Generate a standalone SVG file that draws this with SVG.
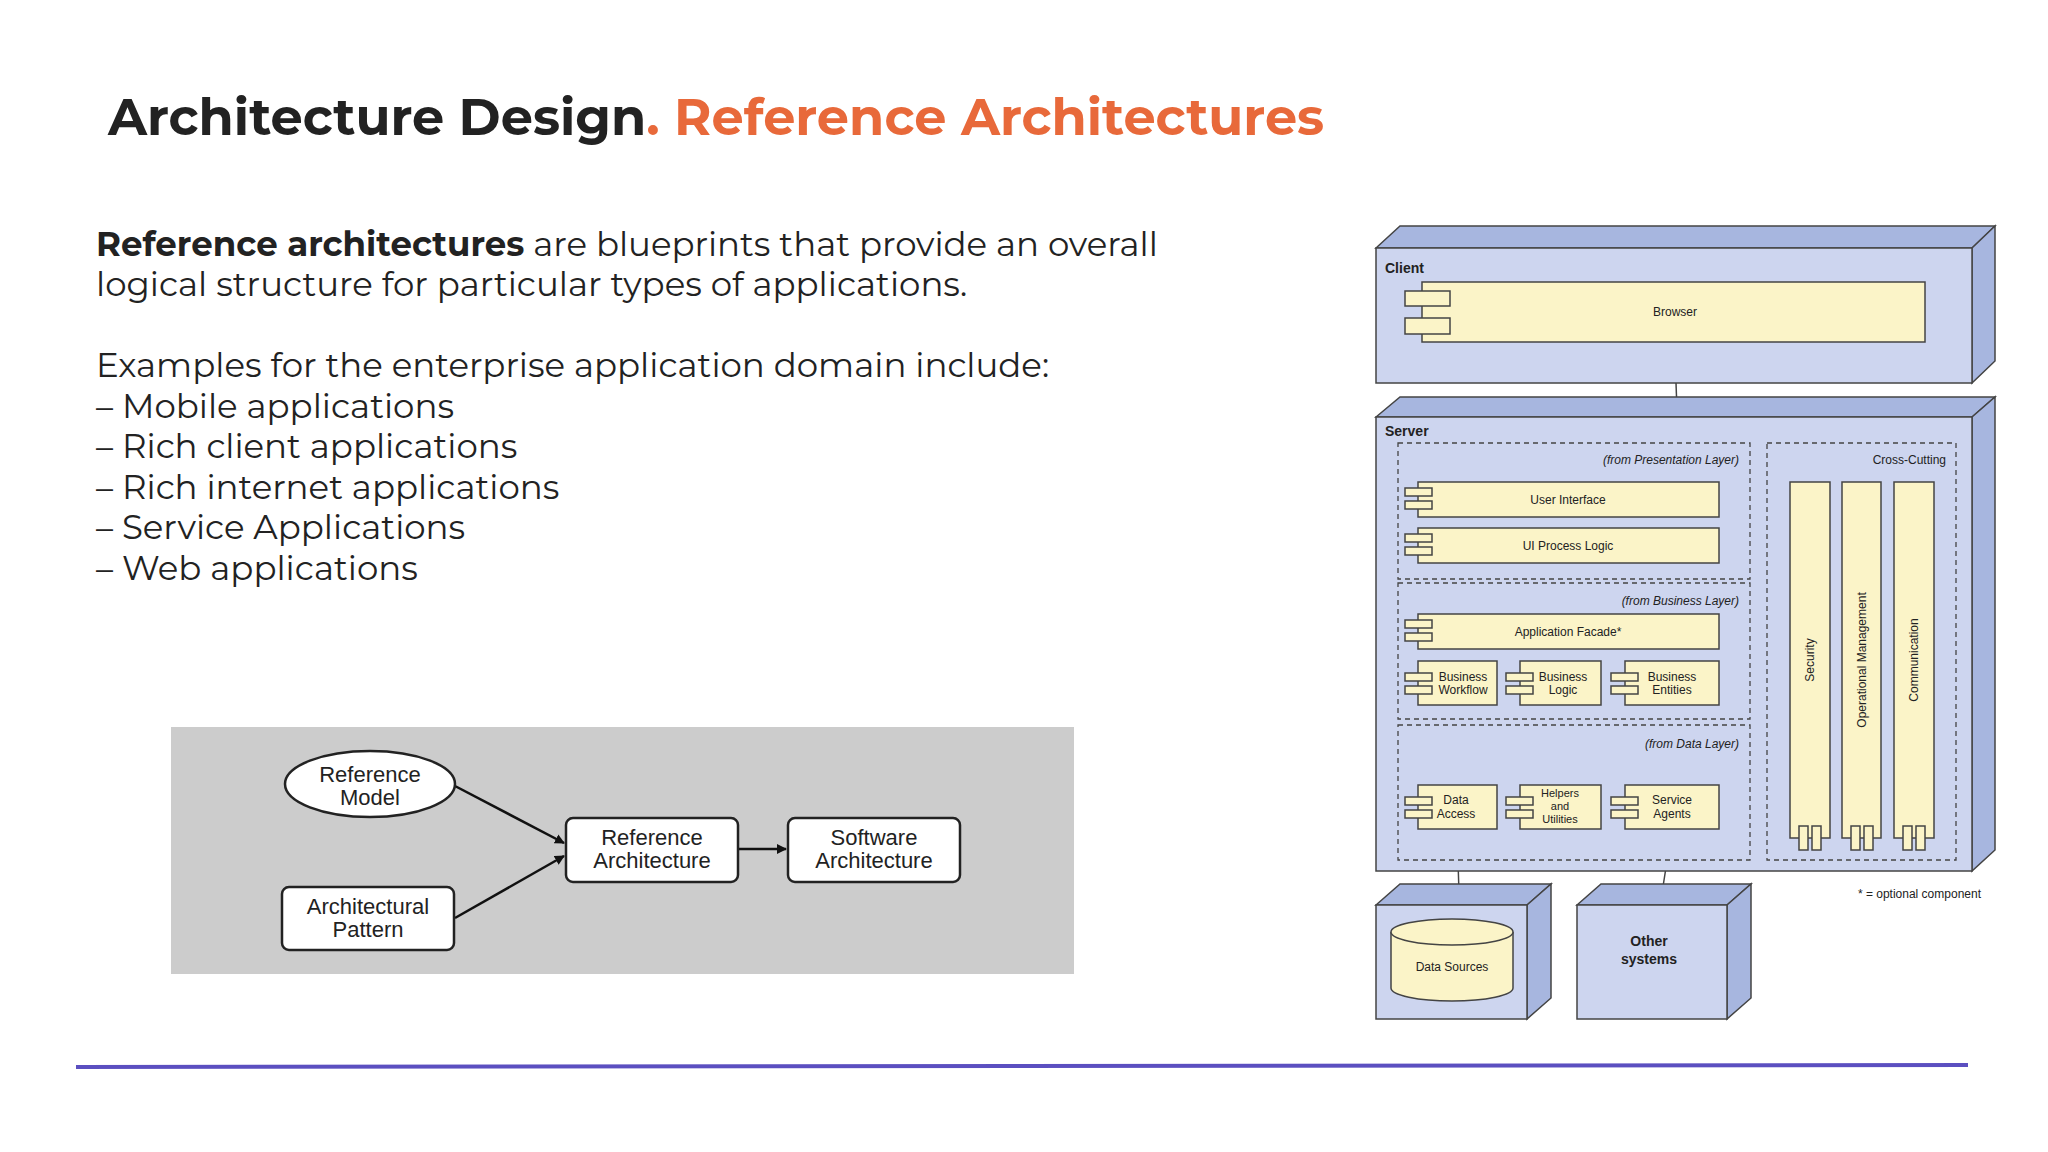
<svg xmlns="http://www.w3.org/2000/svg" width="2048" height="1152" viewBox="0 0 2048 1152">
<style>
.t{font-family:"Montserrat","Open Sans","Noto Sans",sans-serif}
.s{font-family:"Liberation Sans",Arial,sans-serif;fill:#222}
.node{fill:#cdd5ef;stroke:#444;stroke-width:1.5}
.dk{fill:#a7b6df;stroke:#444;stroke-width:1.5}
.y{fill:#fbf4c8;stroke:#444;stroke-width:1.5}
.d{fill:none;stroke:#444;stroke-width:1.3;stroke-dasharray:5 4}
.ln{stroke:#444;stroke-width:1.5;fill:none}
.gb{fill:#fff;stroke:#222;stroke-width:2.5}
</style>
<defs>
<marker id="ah" viewBox="0 0 10 10" refX="9" refY="5" markerWidth="10" markerHeight="10" markerUnits="userSpaceOnUse" orient="auto"><path d="M0,0L10,5L0,10z" fill="#111"/></marker>
<g id="tab"><rect x="0" y="0" width="27" height="8" class="y"/><rect x="0" y="13" width="27" height="8" class="y"/></g>
</defs>
<rect width="2048" height="1152" fill="#fff"/>
<text x="108" y="135" class="t" font-size="51" font-weight="700" fill="#222">Architecture Design<tspan fill="#e8693a">. Reference Architectures</tspan></text>
<g class="t" font-size="34" fill="#222">
<text x="96" y="256"><tspan font-weight="700">Reference architectures</tspan> are blueprints that provide an overall</text>
<text x="96" y="296">logical structure for particular types of applications.</text>
<text x="96" y="377">Examples for the enterprise application domain include:</text>
<text x="96" y="418">– Mobile applications</text>
<text x="96" y="458">– Rich client applications</text>
<text x="96" y="499">– Rich internet applications</text>
<text x="96" y="539">– Service Applications</text>
<text x="96" y="580">– Web applications</text>
</g>
<line x1="76" y1="1067" x2="1968" y2="1065" stroke="#5b4fc0" stroke-width="4"/>

<!-- left diagram -->
<rect x="171" y="727" width="903" height="247" fill="#cccccc"/>
<g id="connectors-left" stroke="#111" stroke-width="2.5" fill="none">
<line x1="455" y1="786" x2="564" y2="843" marker-end="url(#ah)"/>
<line x1="455" y1="918" x2="564" y2="856" marker-end="url(#ah)"/>
<line x1="738" y1="849" x2="786" y2="849" marker-end="url(#ah)"/>
</g>
<g id="refmodel"><ellipse cx="370" cy="784" rx="85" ry="33" class="gb"/><text class="s" font-size="22" text-anchor="middle" fill="#111"><tspan x="370" y="782">Reference</tspan><tspan x="370" y="805">Model</tspan></text></g>
<g id="archpattern"><rect x="282" y="887" width="172" height="63" rx="7" class="gb"/><text class="s" font-size="22" text-anchor="middle"><tspan x="368" y="914">Architectural</tspan><tspan x="368" y="937">Pattern</tspan></text></g>
<g id="refarch"><rect x="566" y="818" width="172" height="64" rx="7" class="gb"/><text class="s" font-size="22" text-anchor="middle"><tspan x="652" y="845">Reference</tspan><tspan x="652" y="868">Architecture</tspan></text></g>
<g id="softarch"><rect x="788" y="818" width="172" height="64" rx="7" class="gb"/><text class="s" font-size="22" text-anchor="middle"><tspan x="874" y="845">Software</tspan><tspan x="874" y="868">Architecture</tspan></text></g>

<!-- right diagram -->
<g id="connectors-right" class="ln">
<line x1="1676" y1="383" x2="1677" y2="410"/>
<line x1="1457" y1="829" x2="1459" y2="893"/>
<line x1="1672" y1="829" x2="1662" y2="893"/>
</g>
<g id="client">
<polygon points="1376,248 1400,226 1995,226 1972,248" class="dk"/>
<polygon points="1972,248 1995,226 1995,361 1972,383" class="dk"/>
<rect x="1376" y="248" width="596" height="135" class="node"/>
<text x="1385" y="273" class="s" font-size="14" font-weight="700">Client</text>
<rect x="1422" y="282" width="503" height="60" class="y"/>
<rect x="1405" y="291" width="45" height="15" class="y"/><rect x="1405" y="318" width="45" height="16" class="y"/>
<text x="1675" y="316" class="s" font-size="12" text-anchor="middle">Browser</text>
</g>
<g id="server">
<polygon points="1376,417 1400,397 1995,397 1972,417" class="dk"/>
<polygon points="1972,417 1995,397 1995,850 1972,871" class="dk"/>
<rect x="1376" y="417" width="596" height="454" class="node"/>
<text x="1385" y="436" class="s" font-size="14" font-weight="700">Server</text>
<rect x="1398" y="443" width="352" height="136" class="d"/>
<rect x="1398" y="583" width="352" height="136" class="d"/>
<rect x="1398" y="725" width="352" height="135" class="d"/>
<rect x="1767" y="443" width="189" height="417" class="d"/>
<g class="s" font-size="12" font-style="italic" text-anchor="end">
<text x="1739" y="464">(from Presentation Layer)</text>
<text x="1739" y="605">(from Business Layer)</text>
<text x="1739" y="748">(from Data Layer)</text>
</g>
<text x="1946" y="464" class="s" font-size="12" text-anchor="end">Cross-Cutting</text>
</g>
<g id="ui"><rect x="1418" y="482" width="301" height="35" class="y"/><use href="#tab" x="1405" y="488"/><text x="1568" y="504" class="s" font-size="12" text-anchor="middle">User Interface</text></g>
<g id="uipl"><rect x="1418" y="528" width="301" height="35" class="y"/><use href="#tab" x="1405" y="534"/><text x="1568" y="550" class="s" font-size="12" text-anchor="middle">UI Process Logic</text></g>
<g id="facade"><rect x="1418" y="614" width="301" height="35" class="y"/><use href="#tab" x="1405" y="620"/><text x="1568" y="636" class="s" font-size="12" text-anchor="middle">Application Facade*</text></g>
<g id="bw"><rect x="1418" y="661" width="79" height="44" class="y"/><use href="#tab" x="1405" y="673"/><text class="s" font-size="12" text-anchor="middle"><tspan x="1463" y="681">Business</tspan><tspan x="1463" y="694">Workflow</tspan></text></g>
<g id="bl"><rect x="1520" y="661" width="81" height="44" class="y"/><use href="#tab" x="1506" y="673"/><text class="s" font-size="12" text-anchor="middle"><tspan x="1563" y="681">Business</tspan><tspan x="1563" y="694">Logic</tspan></text></g>
<g id="be"><rect x="1625" y="661" width="94" height="44" class="y"/><use href="#tab" x="1611" y="673"/><text class="s" font-size="12" text-anchor="middle"><tspan x="1672" y="681">Business</tspan><tspan x="1672" y="694">Entities</tspan></text></g>
<g id="da"><rect x="1418" y="785" width="79" height="44" class="y"/><use href="#tab" x="1405" y="797"/><text class="s" font-size="12" text-anchor="middle"><tspan x="1456" y="804">Data</tspan><tspan x="1456" y="818">Access</tspan></text></g>
<g id="hu"><rect x="1520" y="785" width="81" height="44" class="y"/><use href="#tab" x="1506" y="797"/><text class="s" font-size="11" text-anchor="middle"><tspan x="1560" y="797">Helpers</tspan><tspan x="1560" y="810">and</tspan><tspan x="1560" y="823">Utilities</tspan></text></g>
<g id="sa"><rect x="1625" y="785" width="94" height="44" class="y"/><use href="#tab" x="1611" y="797"/><text class="s" font-size="12" text-anchor="middle"><tspan x="1672" y="804">Service</tspan><tspan x="1672" y="818">Agents</tspan></text></g>
<g id="security"><rect x="1790" y="482" width="40" height="356" class="y"/><rect x="1799" y="826" width="9" height="24" class="y"/><rect x="1812" y="826" width="9" height="24" class="y"/><text transform="translate(1814,660) rotate(-90)" class="s" font-size="12" text-anchor="middle">Security</text></g>
<g id="opmgmt"><rect x="1842" y="482" width="39" height="356" class="y"/><rect x="1851" y="826" width="9" height="24" class="y"/><rect x="1864" y="826" width="9" height="24" class="y"/><text transform="translate(1866,660) rotate(-90)" class="s" font-size="12" text-anchor="middle">Operational Management</text></g>
<g id="comm"><rect x="1894" y="482" width="40" height="356" class="y"/><rect x="1903" y="826" width="9" height="24" class="y"/><rect x="1916" y="826" width="9" height="24" class="y"/><text transform="translate(1918,660) rotate(-90)" class="s" font-size="12" text-anchor="middle">Communication</text></g>
<g id="datasources">
<polygon points="1376,905 1400,884 1551,884 1527,905" class="dk"/>
<polygon points="1527,905 1551,884 1551,998 1527,1019" class="dk"/>
<rect x="1376" y="905" width="151" height="114" class="node"/>
<path d="M1391,932 V988 A61,13 0 0 0 1513,988 V932" class="y"/>
<ellipse cx="1452" cy="932" rx="61" ry="13" class="y"/>
<text x="1452" y="971" class="s" font-size="12" text-anchor="middle">Data Sources</text>
</g>
<g id="othersystems">
<polygon points="1577,905 1601,884 1751,884 1727,905" class="dk"/>
<polygon points="1727,905 1751,884 1751,998 1727,1019" class="dk"/>
<rect x="1577" y="905" width="150" height="114" class="node"/>
<text class="s" font-size="14" font-weight="700" text-anchor="middle"><tspan x="1649" y="946">Other</tspan><tspan x="1649" y="964">systems</tspan></text>
</g>
<text x="1981" y="898" class="s" font-size="12" text-anchor="end">* = optional component</text>
</svg>
